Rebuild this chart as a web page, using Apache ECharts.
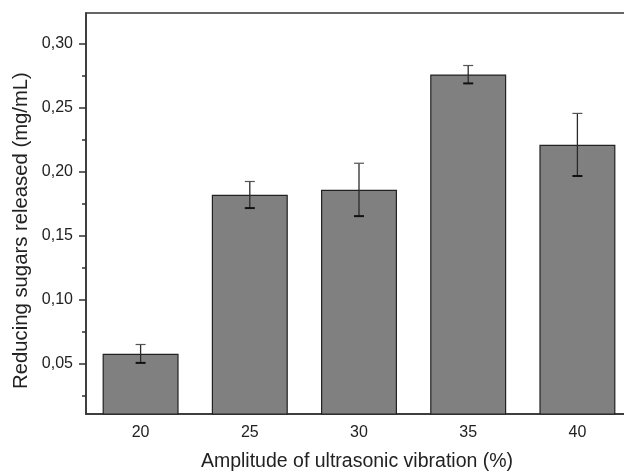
<!DOCTYPE html>
<html>
<head>
<meta charset="utf-8">
<script src="https://cdn.jsdelivr.net/npm/echarts@6/dist/echarts.min.js"></script>
<style>html,body{margin:0;padding:0;background:#fff;}#c{width:624px;height:472px;}</style>
</head>
<body>
<div id="c"></div>
<script>
var categories = ['20', '25', '30', '35', '40'];
var means = [0.0576, 0.182, 0.186, 0.2762, 0.2212];
var errors = [0.0072, 0.0104, 0.0207, 0.0070, 0.0245];
var majorTicks = [0.05, 0.10, 0.15, 0.20, 0.25, 0.30];
var minorTicks = [0.025, 0.075, 0.125, 0.175, 0.225, 0.275];

var font = '"Liberation Sans", Arial, sans-serif';
var chart = echarts.init(document.getElementById('c'), null, {renderer: 'canvas'});
var errData = means.map(function (m, i) { return [i, m - errors[i], m + errors[i]]; });

chart.setOption({
  animation: false,
  grid: {left: 86, top: 13, width: 546, height: 401, outerBoundsMode: 'none', containLabel: false,
    show: true, borderColor: '#333', borderWidth: 1.5, backgroundColor: 'transparent'},
  xAxis: {
    type: 'category',
    data: categories,
    boundaryGap: true,
    axisLine: {lineStyle: {color: '#333', width: 1.5}},
    axisTick: {show: false},
    axisLabel: {color: '#222', fontFamily: font, fontSize: 16, margin: 11},
    name: 'Amplitude of ultrasonic vibration (%)',
    nameLocation: 'middle',
    nameGap: 38,
    nameTextStyle: {color: '#222', fontFamily: font, fontSize: 19.5, padding: [0, 4, 0, 0]}
  },
  yAxis: [{
    type: 'value',
    min: 0.0104,
    max: 0.3243,
    splitLine: {show: false},
    axisLine: {show: true, lineStyle: {color: '#333', width: 1.5}},
    axisTick: {show: true, length: 7, inside: false, customValues: majorTicks, lineStyle: {color: '#333', width: 1.5}},
    axisLabel: {color: '#222', fontFamily: font, fontSize: 16, margin: 13, customValues: majorTicks,
      formatter: function (v) { return v.toFixed(2).replace('.', ','); }},
    name: 'Reducing sugars released (mg/mL)',
    nameLocation: 'middle',
    nameGap: 54,
    nameTextStyle: {color: '#222', fontFamily: font, fontSize: 20.3, padding: [0, 34, 0, 0]}
  }, {
    type: 'value',
    position: 'left',
    min: 0.0104,
    max: 0.3243,
    splitLine: {show: false},
    axisLine: {show: false},
    axisTick: {show: true, length: 4, customValues: minorTicks, lineStyle: {color: '#333', width: 1.5}},
    axisLabel: {show: false}
  }],
  series: [{
    type: 'bar',
    data: means,
    barWidth: 76,
    itemStyle: {color: '#808080', borderColor: '#222', borderWidth: 1.2},
    z: 2
  }, {
    type: 'custom',
    data: errData,
    z: 3,
    renderItem: function (params, api) {
      var x = api.value(0);
      var lo = api.coord([x, api.value(1)]);
      var hi = api.coord([x, api.value(2)]);
      var hw = 5;
      return {
        type: 'group',
        children: [
          {type: 'line', shape: {x1: hi[0], y1: hi[1], x2: lo[0], y2: lo[1]}, style: {stroke: '#2a2a2a', lineWidth: 1.3}},
          {type: 'line', shape: {x1: hi[0] - hw, y1: hi[1], x2: hi[0] + hw, y2: hi[1]}, style: {stroke: '#555', lineWidth: 1.2}},
          {type: 'line', shape: {x1: lo[0] - hw, y1: lo[1], x2: lo[0] + hw, y2: lo[1]}, style: {stroke: '#111', lineWidth: 2}}
        ]
      };
    }
  }]
});
</script>
</body>
</html>
